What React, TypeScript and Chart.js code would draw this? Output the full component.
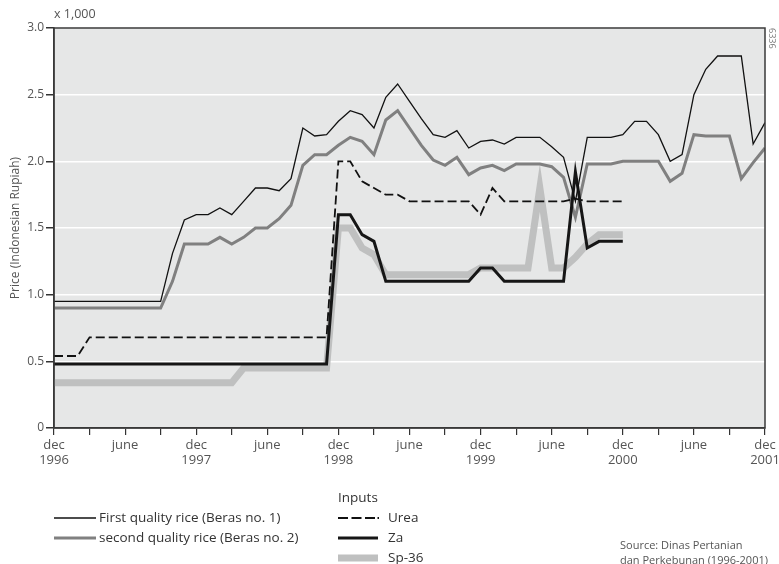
import React, { useEffect, useRef } from "react";
import { Chart, registerables } from "chart.js";

Chart.register(...registerables);

// Month index 0 = Dec 1996 ... 60 = Dec 2001 (values in thousands of Rupiah)
const FIRST_QUALITY = [
  0.95, 0.95, 0.95, 0.95, 0.95, 0.95, 0.95, 0.95, 0.95, 0.95,
  1.31, 1.56, 1.60, 1.60, 1.65, 1.60, 1.70, 1.80, 1.80, 1.78,
  1.87, 2.25, 2.19, 2.20, 2.30, 2.38, 2.35, 2.25, 2.48, 2.58,
  2.45, 2.32, 2.20, 2.18, 2.23, 2.10, 2.15, 2.16, 2.13, 2.18,
  2.18, 2.18, 2.11, 2.03, 1.70, 2.18, 2.18, 2.18, 2.20, 2.30,
  2.30, 2.20, 2.00, 2.05, 2.50, 2.69, 2.79, 2.79, 2.79, 2.13,
  2.29,
];

const SECOND_QUALITY = [
  0.90, 0.90, 0.90, 0.90, 0.90, 0.90, 0.90, 0.90, 0.90, 0.90,
  1.10, 1.38, 1.38, 1.38, 1.43, 1.38, 1.43, 1.50, 1.50, 1.57,
  1.67, 1.97, 2.05, 2.05, 2.12, 2.18, 2.15, 2.05, 2.31, 2.38,
  2.25, 2.12, 2.01, 1.97, 2.03, 1.90, 1.95, 1.97, 1.93, 1.98,
  1.98, 1.98, 1.96, 1.88, 1.58, 1.98, 1.98, 1.98, 2.00, 2.00,
  2.00, 2.00, 1.85, 1.91, 2.20, 2.19, 2.19, 2.19, 1.87, 1.99,
  2.10,
];

const UREA = [
  0.54, 0.54, 0.54, 0.68, 0.68, 0.68, 0.68, 0.68, 0.68, 0.68,
  0.68, 0.68, 0.68, 0.68, 0.68, 0.68, 0.68, 0.68, 0.68, 0.68,
  0.68, 0.68, 0.68, 0.68, 2.00, 2.00, 1.85, 1.80, 1.75, 1.75,
  1.70, 1.70, 1.70, 1.70, 1.70, 1.70, 1.60, 1.80, 1.70, 1.70,
  1.70, 1.70, 1.70, 1.70, 1.72, 1.70, 1.70, 1.70, 1.70,
];

const ZA = [
  0.48, 0.48, 0.48, 0.48, 0.48, 0.48, 0.48, 0.48, 0.48, 0.48,
  0.48, 0.48, 0.48, 0.48, 0.48, 0.48, 0.48, 0.48, 0.48, 0.48,
  0.48, 0.48, 0.48, 0.48, 1.60, 1.60, 1.45, 1.40, 1.10, 1.10,
  1.10, 1.10, 1.10, 1.10, 1.10, 1.10, 1.20, 1.20, 1.10, 1.10,
  1.10, 1.10, 1.10, 1.10, 1.92, 1.35, 1.40, 1.40, 1.40,
];

const SP36 = [
  0.34, 0.34, 0.34, 0.34, 0.34, 0.34, 0.34, 0.34, 0.34, 0.34,
  0.34, 0.34, 0.34, 0.34, 0.34, 0.34, 0.45, 0.45, 0.45, 0.45,
  0.45, 0.45, 0.45, 0.45, 1.50, 1.50, 1.35, 1.30, 1.15, 1.15,
  1.15, 1.15, 1.15, 1.15, 1.15, 1.15, 1.20, 1.20, 1.20, 1.20,
  1.20, 1.80, 1.20, 1.20, 1.28, 1.38, 1.45, 1.45, 1.45,
];

const X_TICK_LABELS: [number, string | string[]][] = [
  [0, ["dec", "1996"]], [6, "june"],
  [12, ["dec", "1997"]], [18, "june"],
  [24, ["dec", "1998"]], [30, "june"],
  [36, ["dec", "1999"]], [42, "june"],
  [48, ["dec", "2000"]], [54, "june"],
  [60, ["dec", "2001"]],
];

const Y_TICK_LABELS: [number, string][] = [
  [0, "0"], [0.5, "0.5"], [1, "1.0"], [1.5, "1.5"],
  [2, "2.0"], [2.5, "2.5"], [3, "3.0"],
];

const FONT = "'Open Sans', sans-serif";

const toPoints = (arr: number[]) => arr.map((y, i) => ({ x: i, y }));

export default function App() {
  const ref = useRef<HTMLCanvasElement | null>(null);

  useEffect(() => {
    if (!ref.current) return;
    const bgPlugin = {
      id: "plotBg",
      beforeDraw(chart: any) {
        const { ctx, chartArea } = chart;
        ctx.save();
        ctx.fillStyle = "#e6e7e7";
        ctx.fillRect(chartArea.left, chartArea.top, chartArea.right - chartArea.left, chartArea.bottom - chartArea.top);
        ctx.restore();
      },
      afterDraw(chart: any) {
        const { ctx, chartArea } = chart;
        ctx.save();
        ctx.strokeStyle = "#3a3a3a";
        ctx.lineWidth = 1.5;
        ctx.strokeRect(chartArea.left, chartArea.top, chartArea.right - chartArea.left, chartArea.bottom - chartArea.top);
        ctx.restore();
      },
    };

    const chart = new Chart(ref.current, {
      type: "line",
      data: {
        datasets: [
          {
            label: "First quality rice (Beras no. 1)",
            data: toPoints(FIRST_QUALITY),
            borderColor: "#111111",
            borderWidth: 1.3,
            pointRadius: 0,
            tension: 0,
            order: 0,
          },
          {
            label: "Za",
            data: toPoints(ZA),
            borderColor: "#161616",
            borderWidth: 3,
            pointRadius: 0,
            tension: 0,
            order: 1,
          },
          {
            label: "Urea",
            data: toPoints(UREA),
            borderColor: "#111111",
            borderWidth: 1.8,
            borderDash: [9, 4],
            pointRadius: 0,
            tension: 0,
            order: 2,
          },
          {
            label: "second quality rice (Beras no. 2)",
            data: toPoints(SECOND_QUALITY),
            borderColor: "#808080",
            borderWidth: 3,
            pointRadius: 0,
            tension: 0,
            order: 3,
          },
          {
            label: "Sp-36",
            data: toPoints(SP36),
            borderColor: "#bfc0c0",
            borderWidth: 7,
            pointRadius: 0,
            tension: 0,
            order: 4,
          },
        ],
      },
      options: {
        animation: false,
        responsive: false,
        maintainAspectRatio: false,
        layout: { padding: { top: 28, right: 14, left: 0, bottom: 0 } },
        plugins: {
          legend: { display: false },
          tooltip: { enabled: false },
        },
        scales: {
          x: {
            type: "linear",
            min: 0,
            max: 60,
            afterFit(scale: any) {
              scale.height = 136;
              scale.paddingLeft = 0;
              scale.paddingRight = 0;
            },
            ticks: {
              stepSize: 3,
              autoSkip: false,
              maxRotation: 0,
              padding: 3,
              color: "#555555",
              font: { family: FONT, size: 13, lineHeight: 1.15 },
              callback: (v: any) => {
                const f = X_TICK_LABELS.find((t) => t[0] === v);
                return f ? f[1] : "";
              },
            },
            grid: {
              drawOnChartArea: false,
              tickLength: 7,
              tickColor: "#333333",
              lineWidth: 1.2,
            },
            border: { display: true, color: "#3a3a3a", width: 1.5 },
          },
          y: {
            min: 0,
            max: 3,
            afterFit(scale: any) {
              scale.width = 54;
              scale.paddingTop = 0;
              scale.paddingBottom = 0;
            },
            ticks: {
              stepSize: 0.5,
              padding: 2,
              color: "#555555",
              font: { family: FONT, size: 12 },
              callback: (v: any) => {
                const f = Y_TICK_LABELS.find((t) => Math.abs(t[0] - v) < 1e-9);
                return f ? f[1] : "";
              },
            },
            grid: {
              color: "#ffffff",
              lineWidth: 1.5,
              tickColor: "#333333",
              tickLength: 8,
            },
            border: { display: true, color: "#3a3a3a", width: 1.5 },
            title: {
              display: true,
              text: "Price (Indonesian Rupiah)",
              color: "#555555",
              font: { family: FONT, size: 12 },
              padding: { top: 8, bottom: 0 },
            },
          },
        },
      },
      plugins: [bgPlugin],
    } as any);
    return () => chart.destroy();
  }, []);

  const textBase: React.CSSProperties = {
    position: "absolute",
    fontFamily: FONT,
    whiteSpace: "nowrap",
    lineHeight: "16px",
  };

  return (
    <div style={{ position: "absolute", left: 0, top: 0, width: 779, height: 564, background: "#ffffff", overflow: "hidden" }}>
      <canvas ref={ref} width={779} height={564} style={{ display: "block", width: 779, height: 564 }} />
      <div style={{ ...textBase, left: 54, top: 6, fontSize: 12.5, color: "#555" }}>x 1,000</div>
      <div style={{ ...textBase, left: 767, top: 28, fontSize: 9, color: "#777", writingMode: "vertical-rl", lineHeight: "10px" }}>6336</div>

      <svg style={{ position: "absolute", left: 0, top: 0 }} width={779} height={564}>
        <line x1={54} y1={518} x2={96} y2={518} stroke="#111" strokeWidth={1.3} />
        <line x1={54} y1={538} x2={96} y2={538} stroke="#808080" strokeWidth={3} />
        <line x1={338} y1={518} x2={379} y2={518} stroke="#111" strokeWidth={1.8} strokeDasharray="10 3.5 10 3.5 10 2.5 1.5 10" />
        <line x1={338} y1={538} x2={378} y2={538} stroke="#161616" strokeWidth={3} />
        <line x1={338} y1={558} x2={378} y2={558} stroke="#bfc0c0" strokeWidth={7} />
      </svg>

      <div style={{ ...textBase, left: 99, top: 509, fontSize: 13.5, color: "#333" }}>First quality rice (Beras no. 1)</div>
      <div style={{ ...textBase, left: 99, top: 529, fontSize: 13.5, color: "#333" }}>second quality rice (Beras no. 2)</div>
      <div style={{ ...textBase, left: 338, top: 489, fontSize: 13.5, color: "#333" }}>Inputs</div>
      <div style={{ ...textBase, left: 388, top: 509, fontSize: 13.5, color: "#333" }}>Urea</div>
      <div style={{ ...textBase, left: 388, top: 529, fontSize: 13.5, color: "#333" }}>Za</div>
      <div style={{ ...textBase, left: 388, top: 549, fontSize: 13.5, color: "#333" }}>Sp-36</div>

      <div style={{ ...textBase, left: 620, top: 537, fontSize: 11, color: "#555", lineHeight: "15px" }}>
        Source: Dinas Pertanian
        <br />
        dan Perkebunan (1996-2001)
      </div>
    </div>
  );
}
